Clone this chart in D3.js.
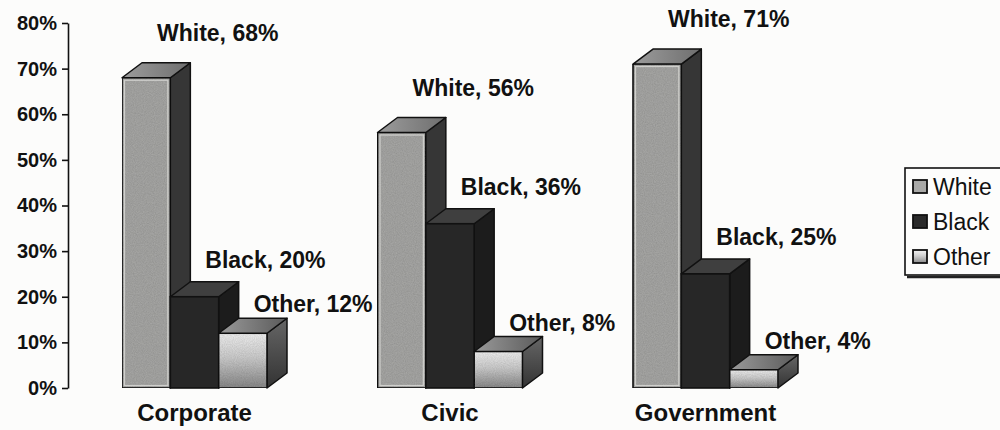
<!DOCTYPE html>
<html>
<head>
<meta charset="utf-8">
<script src="https://cdn.jsdelivr.net/npm/d3@7/dist/d3.min.js"></script>
<style>
  html, body { margin: 0; padding: 0; background: #fcfcfb; }
  svg { display: block; }
  text { font-family: "Liberation Sans", Arial, sans-serif; fill: #111; }
</style>
</head>
<body>
<svg id="chart" width="1000" height="430"></svg>
<script>
// ---- data ----
const categories = ["Corporate", "Civic", "Government"];
const seriesNames = ["White", "Black", "Other"];
const whiteValues = [68, 56, 71];
const blackValues = [20, 36, 25];
const otherValues = [12, 8, 4];
const yTickValues = [0, 10, 20, 30, 40, 50, 60, 70, 80];

const seriesValues = { White: whiteValues, Black: blackValues, Other: otherValues };

// ---- layout / style ----
const axisX = 68, yBottom = 388, yTop = 23;
const depthX = 20, depthY = -15;
const labelRise = { White: 37, Black: 29, Other: 21 };
const labelShift = 35;

const svg = d3.select("#chart");

const defs = svg.append("defs");
const noise = defs.append("filter").attr("id", "grain").attr("x", 0).attr("y", 0).attr("width", 1).attr("height", 1);
noise.append("feTurbulence").attr("type", "fractalNoise").attr("baseFrequency", 0.9).attr("numOctaves", 2).attr("seed", 3).attr("result", "n");
noise.append("feColorMatrix").attr("in", "n").attr("type", "matrix")
  .attr("values", "0 0 0 0 0  0 0 0 0 0  0 0 0 0 0  0 0 0 0.3 0").attr("result", "na");
noise.append("feComposite").attr("in", "na").attr("in2", "SourceGraphic").attr("operator", "atop");

const gOtherFront = defs.append("linearGradient").attr("id", "otherFront").attr("x1", 0).attr("y1", 0).attr("x2", 0).attr("y2", 1);
gOtherFront.append("stop").attr("offset", "0%").attr("stop-color", "#f4f4f4");
gOtherFront.append("stop").attr("offset", "45%").attr("stop-color", "#cfcfcf");
gOtherFront.append("stop").attr("offset", "100%").attr("stop-color", "#8a8a8a");

const gOtherTop = defs.append("linearGradient").attr("id", "otherTop").attr("x1", 0).attr("y1", 0).attr("x2", 1).attr("y2", 0);
gOtherTop.append("stop").attr("offset", "0%").attr("stop-color", "#9a9a9a");
gOtherTop.append("stop").attr("offset", "100%").attr("stop-color", "#5a5a5a");

const gOtherSide = defs.append("linearGradient").attr("id", "otherSide").attr("x1", 0).attr("y1", 0).attr("x2", 0).attr("y2", 1);
gOtherSide.append("stop").attr("offset", "0%").attr("stop-color", "#666");
gOtherSide.append("stop").attr("offset", "100%").attr("stop-color", "#333");

const gWhiteTop = defs.append("linearGradient").attr("id", "whiteTop").attr("x1", 0).attr("y1", 0).attr("x2", 1).attr("y2", 0);
gWhiteTop.append("stop").attr("offset", "0%").attr("stop-color", "#9c9c9c");
gWhiteTop.append("stop").attr("offset", "100%").attr("stop-color", "#6e6e6e");

const style = {
  White: { front: "#a9a9a7", top: "url(#whiteTop)", side: "#363636", inner: "#dcdcd8" },
  Black: { front: "#272727", top: "#3f3f3f", side: "#1c1c1c", inner: null },
  Other: { front: "url(#otherFront)", top: "url(#otherTop)", side: "url(#otherSide)", inner: null }
};

// ---- scales ----
const y = d3.scaleLinear().domain([0, 80]).range([yBottom, yTop]);
const x0 = d3.scaleBand().domain(categories).range([axisX, 832]).paddingInner(0.4325).paddingOuter(0.2114);
const x1 = d3.scaleBand().domain(seriesNames).range([0, x0.bandwidth()]);

// ---- axis ----
const axis = d3.axisLeft(y).tickValues(yTickValues).tickFormat(d => d + "%").tickSize(6).tickSizeOuter(0).tickPadding(5);
const axG = svg.append("g").attr("transform", `translate(${axisX},0)`).call(axis);
axG.select(".domain").attr("stroke", "#111").attr("stroke-width", 1.6);
axG.selectAll(".tick line").attr("stroke", "#111").attr("stroke-width", 1.6);
axG.selectAll(".tick text").attr("font-size", 20).attr("font-weight", "bold")
  .attr("font-family", "'Liberation Sans', Arial, sans-serif").attr("fill", "#111");

// ---- bars ----
const barsG = svg.append("g");
const bars = [];
categories.forEach((c, ci) => {
  seriesNames.forEach(s => {
    bars.push({ cat: c, series: s, value: seriesValues[s][ci] });
  });
});

const pts = a => a.map(p => p.join(",")).join(" ");

bars.forEach(b => {
  const xl = x0(b.cat) + x1(b.series);
  const xr = xl + x1.bandwidth();
  const yt = y(b.value);
  const yb = y(0);
  const st = style[b.series];
  const g = barsG.append("g");
  g.append("polygon")
    .attr("points", pts([[xr, yt], [xr + depthX, yt + depthY], [xr + depthX, yb + depthY], [xr, yb]]))
    .attr("fill", st.side).attr("stroke", "#111").attr("stroke-width", 1.5).attr("stroke-linejoin", "round");
  g.append("polygon")
    .attr("points", pts([[xl, yt], [xl + depthX, yt + depthY], [xr + depthX, yt + depthY], [xr, yt]]))
    .attr("fill", st.top).attr("stroke", "#111").attr("stroke-width", 1.5).attr("stroke-linejoin", "round");
  const fr = g.append("rect")
    .attr("x", xl).attr("y", yt).attr("width", x1.bandwidth()).attr("height", yb - yt)
    .attr("fill", st.front).attr("stroke", "#111").attr("stroke-width", 1.6);
  if (b.series !== "Black") fr.attr("filter", "url(#grain)");
  if (st.inner) {
    g.append("rect")
      .attr("x", xl + 2.5).attr("y", yt + 2.5).attr("width", x1.bandwidth() - 5).attr("height", yb - yt - 5)
      .attr("fill", "none").attr("stroke", st.inner).attr("stroke-width", 1.2).attr("opacity", 0.8);
  }
});

// ---- data labels ----
svg.append("g").selectAll("text").data(bars).join("text")
  .attr("x", d => x0(d.cat) + x1(d.series) + labelShift)
  .attr("y", d => y(d.value) - labelRise[d.series])
  .attr("font-size", 23).attr("font-weight", "bold")
  .text(d => `${d.series}, ${d.value}%`);

// ---- category labels ----
svg.append("g").selectAll("text").data(categories).join("text")
  .attr("x", d => x0(d) + x0.bandwidth() / 2)
  .attr("y", 421)
  .attr("text-anchor", "middle")
  .attr("font-size", 24).attr("font-weight", "bold")
  .text(d => d);

// ---- legend ----
const lg = svg.append("g").attr("transform", "translate(905,168)");
lg.append("rect").attr("x", 0).attr("y", 0).attr("width", 110).attr("height", 107)
  .attr("fill", "#fdfdfc").attr("stroke", "#111").attr("stroke-width", 1.6);
lg.append("line").attr("x1", 2).attr("x2", 110).attr("y1", 109).attr("y2", 109)
  .attr("stroke", "#222").attr("stroke-width", 2.5);
const legendFill = { White: "#a9a9a7", Black: "#2a2a2a", Other: "url(#otherFront)" };
seriesNames.forEach((s, i) => {
  const cy = 19 + i * 35;
  lg.append("rect").attr("x", 8).attr("y", cy - 7).attr("width", 14).attr("height", 13)
    .attr("fill", legendFill[s]).attr("stroke", "#111").attr("stroke-width", 1.8);
  lg.append("text").attr("x", 28).attr("y", cy + 8).attr("font-size", 23).text(s);
});
</script>
</body>
</html>
